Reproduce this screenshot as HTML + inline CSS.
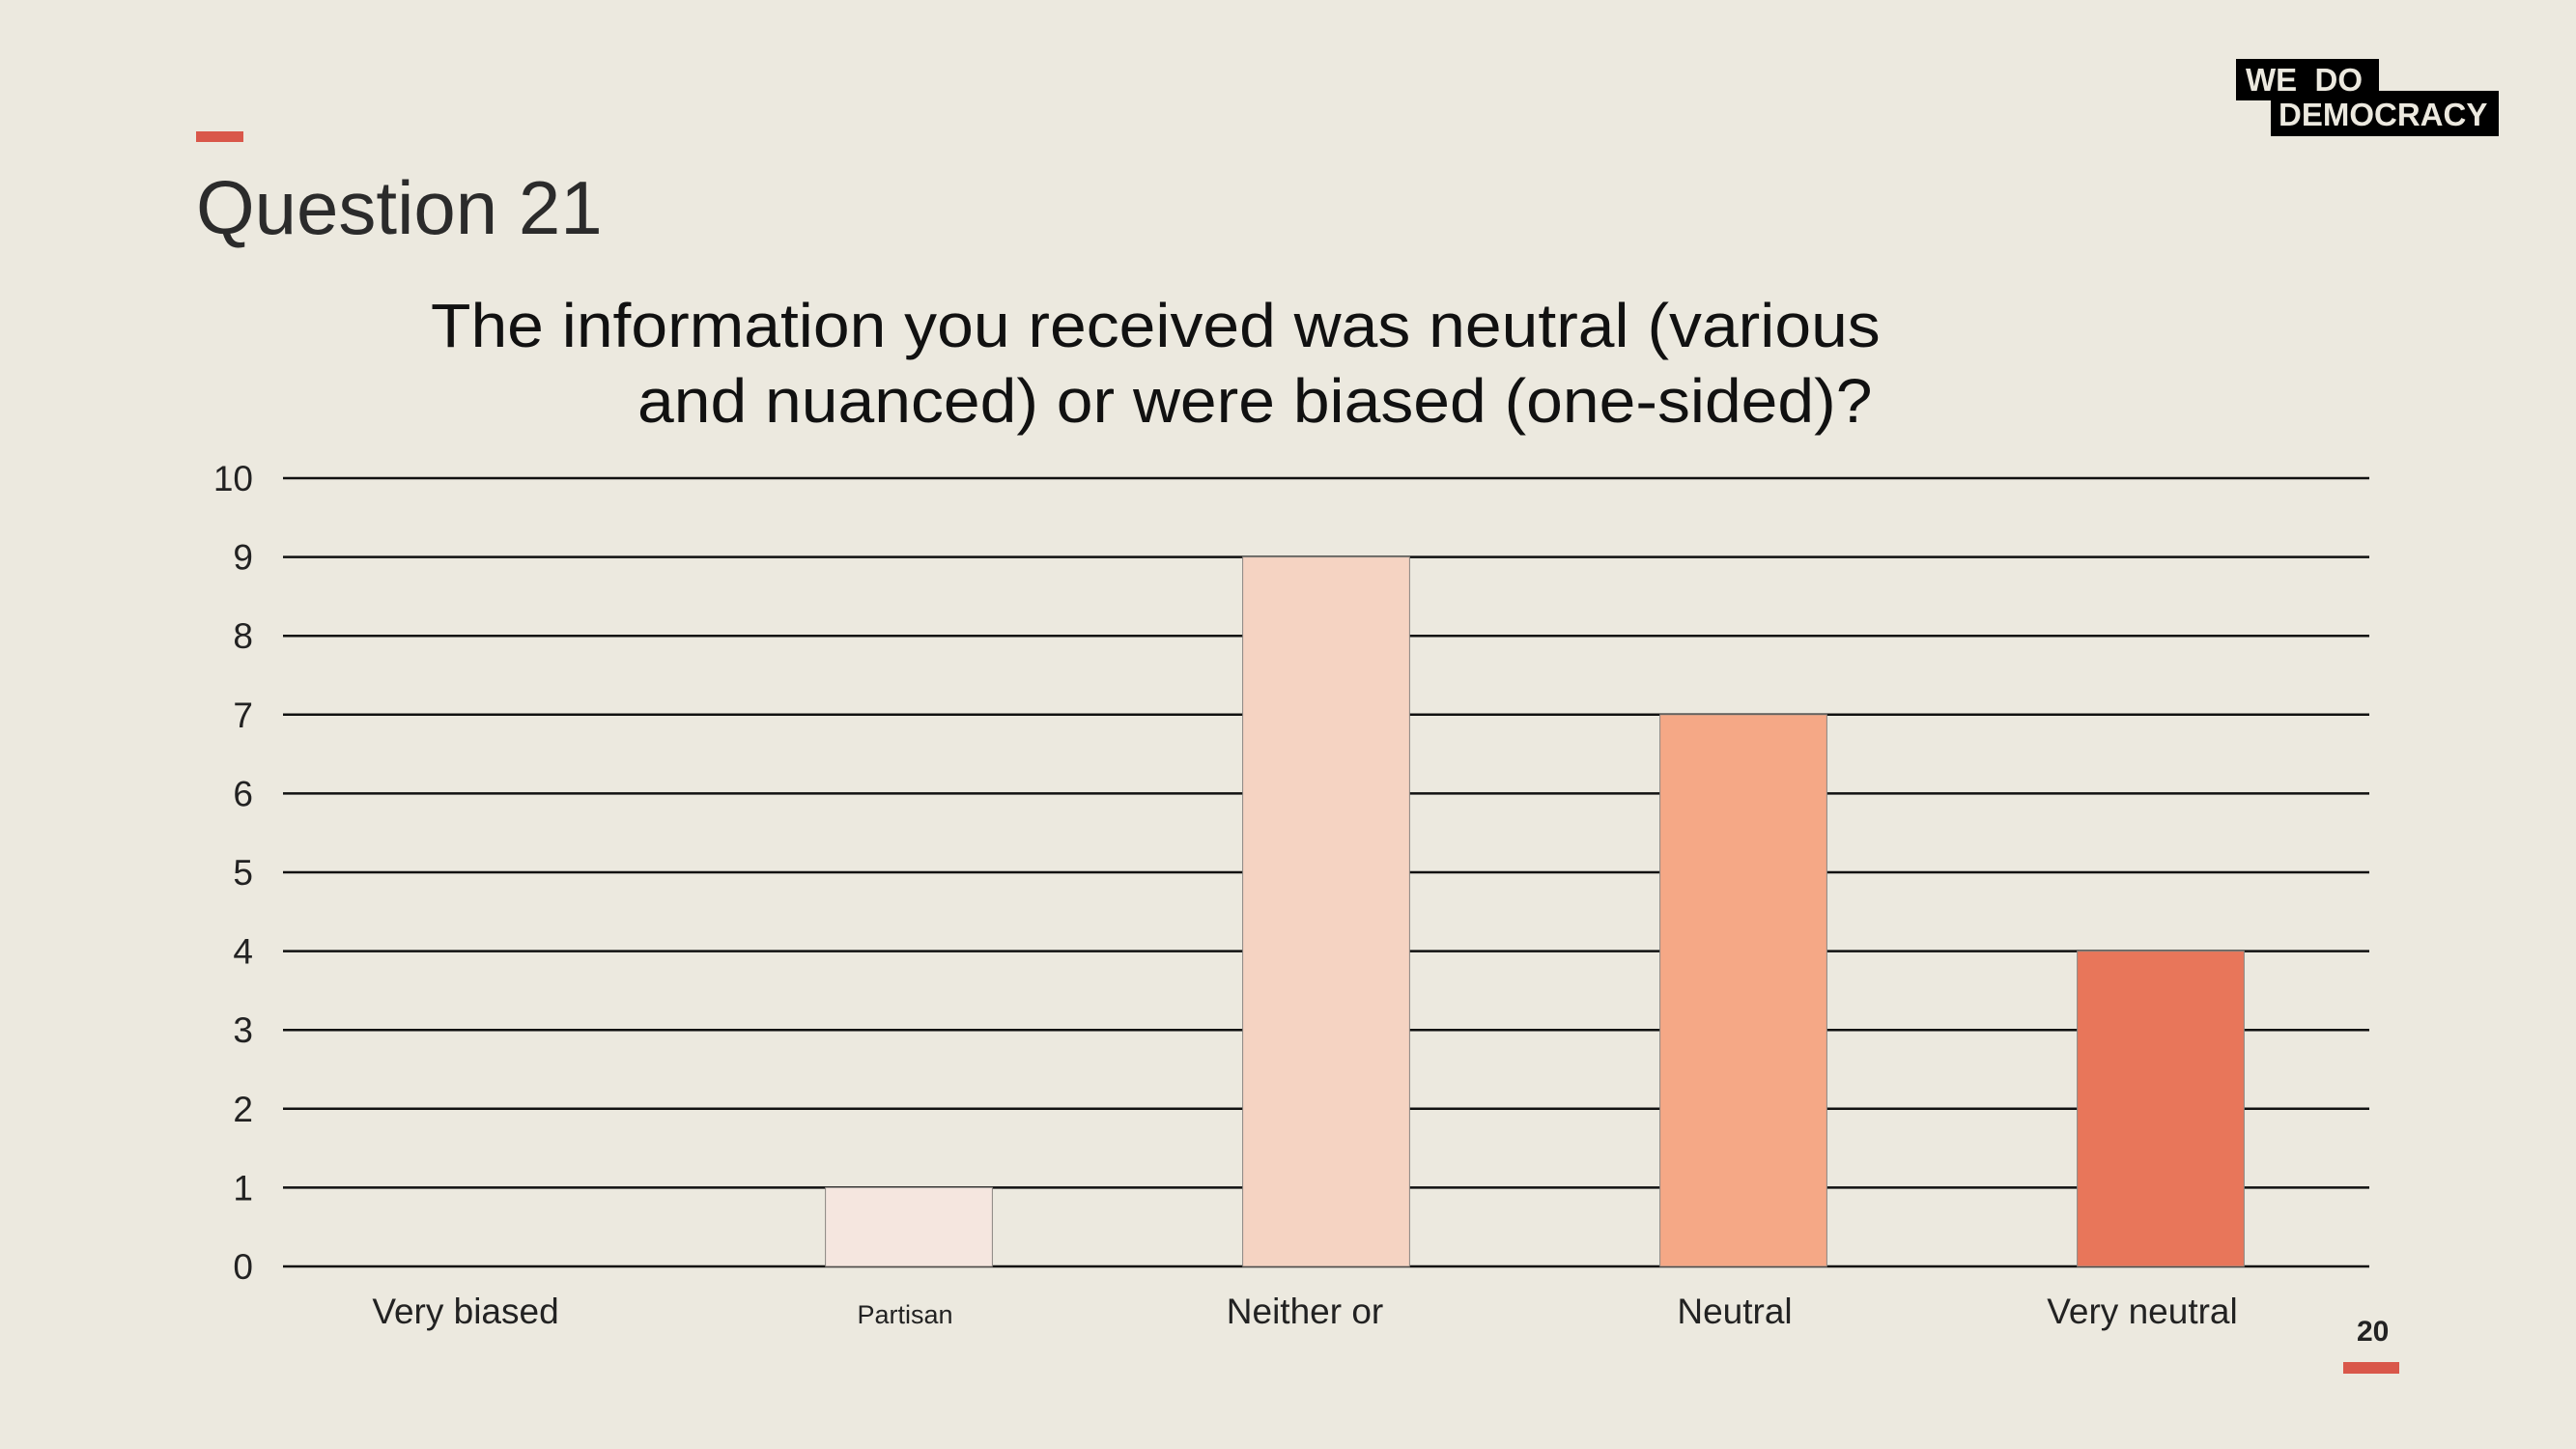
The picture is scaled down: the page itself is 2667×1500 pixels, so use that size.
<!DOCTYPE html>
<html><head><meta charset="utf-8"><style>
body{margin:0;width:2667px;height:1500px;background:#ece9df;overflow:hidden;position:relative;font-family:"Liberation Sans",sans-serif}
.abs{position:absolute}
.sub{position:absolute;font-size:64px;line-height:1;color:#111;white-space:nowrap;transform-origin:0 0;transform:scaleX(1.06)}
</style></head><body>
<div class="abs" style="left:203px;top:136px;width:49px;height:11px;background:#d9574a"></div>
<div class="abs" style="left:203px;top:176px;font-size:78px;color:#2b2b2b;line-height:1">Question 21</div>
<div>
<div class="sub" style="left:446px;top:305px">The information you received was neutral (various</div>
<div class="sub" style="left:660px;top:383px">and nuanced) or were biased (one-sided)?</div>
</div>
<div class="abs" style="left:2315px;top:61px">
 <div style="position:absolute;left:0;top:0;width:148px;height:43px;background:#000"></div>
 <div style="position:absolute;left:36px;top:33px;width:236px;height:47px;background:#000"></div>
 <div style="position:absolute;left:10px;top:4px;color:#ece9df;font-weight:bold;font-size:33px;line-height:36px;white-space:pre">WE  DO</div>
 <div style="position:absolute;left:44px;top:40px;color:#ece9df;font-weight:bold;font-size:33px;line-height:36px">DEMOCRACY</div>
</div>
<svg class="abs" style="left:0;top:0" width="2667" height="1500">
<g id="grid"></g><g id="bars"></g><g id="labels"></g>
</svg>
<div class="abs" style="left:2440px;top:1362px;font-size:30px;font-weight:bold;color:#222">20</div>
<div class="abs" style="left:2426px;top:1410px;width:58px;height:12px;background:#d9574a"></div>
<script>
const categories=["Very biased","Partisan","Neither or","Neutral","Very neutral"];
const values=[0,1,9,7,4];
const colors=["#f5e6df","#f5e6df","#f5d3c2","#f5a886","#e8765a"];
const ticks=[0,1,2,3,4,5,6,7,8,9,10];
const labelSizes=[37,27,37,37,37];
const labelShift=[-27,-4,-22,-9,-19];
const NS="http://www.w3.org/2000/svg";
const x0=293,x1=2453,yTop=495,yBot=1311,ymax=10;
const y=v=>yBot-(yBot-yTop)*v/ymax;
const slot=(x1-x0)/categories.length;
const xc=i=>x0+slot*(i+0.5);
function mk(t,a,p){const e=document.createElementNS(NS,t);for(const k in a)e.setAttribute(k,a[k]);p.appendChild(e);return e;}
const grid=document.getElementById('grid'),bars=document.getElementById('bars'),labels=document.getElementById('labels');
ticks.forEach(t=>{
 const l=mk('line',{x1:x0,x2:x1,y1:y(t),y2:y(t),stroke:'#111','stroke-width':2.5},grid);
 
 
 const tx=mk('text',{x:262,y:y(t)+13,'text-anchor':'end','font-size':37,fill:'#222','font-family':'Liberation Sans, sans-serif'},labels);
 tx.textContent=t;
 
 
});
categories.forEach((c,i)=>{
 const w=slot*0.4;
 if(values[i]>0){
  const r=mk('rect',{x:xc(i)-w/2,y:y(values[i]),width:w,height:yBot-y(values[i]),fill:colors[i],stroke:'#8a8580','stroke-width':1},bars);
  
  
 }
 const t=mk('text',{x:xc(i)+labelShift[i],y:1370,'text-anchor':'middle','font-size':labelSizes[i],fill:'#222','font-family':'Liberation Sans, sans-serif'},labels);
 t.textContent=c;
 
 
});
</script>
</body></html>
